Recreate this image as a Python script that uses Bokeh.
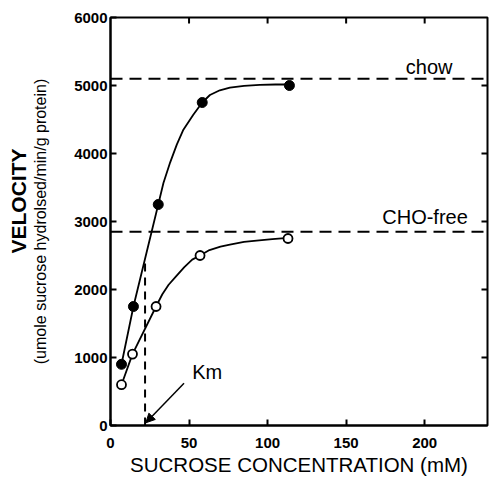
from bokeh.plotting import figure
from bokeh.models import Range1d, Label, Span, Arrow, NormalHead, FixedTicker, Title
from bokeh.embed import file_html
from bokeh.resources import INLINE

# ---- data ----
conc_chow = [7, 14.6, 30.4, 58.4, 113.9]
vel_chow = [900, 1750, 3250, 4750, 5000]
conc_free = [7, 14, 29, 57, 113]
vel_free = [600, 1050, 1750, 2500, 2750]

# hand-drawn fitted curves
curve_chow_x = [7, 14.6, 30.4, 33.7, 38, 42.2, 46.4, 52.7, 58.4, 63.3, 69.6, 76, 85, 95, 105, 113.9]
curve_chow_y = [900, 1750, 3250, 3565, 3870, 4130, 4350, 4570, 4750, 4860, 4930, 4970, 4995, 5010, 5015, 5015]
curve_free_x = [7, 14, 29, 33, 37, 42, 47, 52, 57, 63, 70, 76, 85, 93, 103, 113]
curve_free_y = [600, 1050, 1750, 1930, 2070, 2200, 2330, 2440, 2500, 2580, 2630, 2660, 2700, 2720, 2740, 2760]

vmax_chow = 5100
vmax_free = 2850
km = 22
km_top = 2450

x_max = 240
y_max = 6000
x_ticks = [0, 50, 100, 150, 200]
y_ticks = [0, 1000, 2000, 3000, 4000, 5000, 6000]

FONT = "Liberation Sans"

p = figure(width=491, height=480, x_range=Range1d(0, x_max), y_range=Range1d(0, y_max),
           output_backend="svg", toolbar_location=None,
           min_border_left=110, min_border_right=4, min_border_top=17, min_border_bottom=55)
p.xgrid.visible = False
p.ygrid.visible = False
p.background_fill_color = "white"
p.border_fill_color = "white"
p.outline_line_color = "black"
p.outline_line_width = 2

def style_axis(ax, ticks):
    ax.ticker = FixedTicker(ticks=ticks)
    ax.major_tick_in = 6
    ax.major_tick_out = 0
    ax.minor_tick_line_color = None
    ax.axis_line_width = 2
    ax.major_tick_line_width = 2
    ax.major_label_text_font = FONT
    ax.major_label_text_font_style = "bold"
    ax.major_label_text_font_size = "15px"
    ax.major_label_text_color = "black"

style_axis(p.xaxis[0], x_ticks)
p.xaxis[0].major_label_standoff = 12
style_axis(p.yaxis[0], y_ticks)
p.yaxis[0].major_label_standoff = 3

# y axis titles
p.yaxis[0].axis_label = "(umole sucrose hydrolsed/min/g protein)"
p.yaxis[0].axis_label_text_font = FONT
p.yaxis[0].axis_label_text_font_size = "16px"
p.yaxis[0].axis_label_text_font_style = "normal"
p.yaxis[0].axis_label_text_color = "black"
p.yaxis[0].axis_label_standoff = 22

p.add_layout(Title(text="VELOCITY", align="left", text_font=FONT, text_font_size="21px",
                   text_font_style="bold", text_color="black", offset=172, standoff=0), "left")
p.add_layout(Title(text="SUCROSE CONCENTRATION (mM)", align="center", text_font=FONT,
                   text_font_size="20.5px", text_font_style="normal", text_color="black",
                   offset=10, standoff=0), "below")

# inner ticks on the top and right frame edges
tick_len_x = x_max * 6 / 377
tick_len_y = y_max * 6 / 408
top_t = [t for t in x_ticks if 0 < t < x_max]
right_t = [t for t in y_ticks if 0 < t < y_max]
p.segment(x0=top_t, y0=[y_max] * len(top_t), x1=top_t, y1=[y_max - tick_len_y] * len(top_t),
          line_color="black", line_width=2)
p.segment(x0=[x_max] * len(right_t), y0=right_t, x1=[x_max - tick_len_x] * len(right_t),
          y1=right_t, line_color="black", line_width=2)

# dashed Vmax lines
for v in (vmax_chow, vmax_free):
    p.add_layout(Span(location=v, dimension="width", line_color="black",
                      line_width=2, line_dash="12 7"))

# Km vertical dashed line
p.segment(x0=[km], y0=[0], x1=[km], y1=[km_top], line_color="black",
          line_width=2, line_dash="8 6")

# curves
p.line(curve_chow_x, curve_chow_y, line_color="black", line_width=1.8)
p.line(curve_free_x, curve_free_y, line_color="black", line_width=1.8)

# points
p.scatter(conc_chow, vel_chow, size=10, marker="circle", fill_color="black", line_color="black")
p.scatter(conc_free, vel_free, size=9, marker="circle", fill_color="white",
          line_color="black", line_width=1.8)

# annotations
p.add_layout(Label(x=188, y=5270, text="chow", text_font=FONT, text_font_size="20px",
                   text_color="black", text_align="left", text_baseline="alphabetic"))
p.add_layout(Label(x=173, y=3070, text="CHO-free", text_font=FONT, text_font_size="20px",
                   text_color="black", text_align="left", text_baseline="alphabetic"))
p.add_layout(Label(x=52, y=780, text="Km", text_font=FONT, text_font_size="20px",
                   text_color="black", text_align="left", text_baseline="alphabetic"))
p.add_layout(Arrow(x_start=46.8, y_start=620, x_end=22.5, y_end=40, line_width=1.5,
                   end=NormalHead(size=9, fill_color="black", line_color="black")))

open("out.html", "w").write(file_html(p, INLINE))
